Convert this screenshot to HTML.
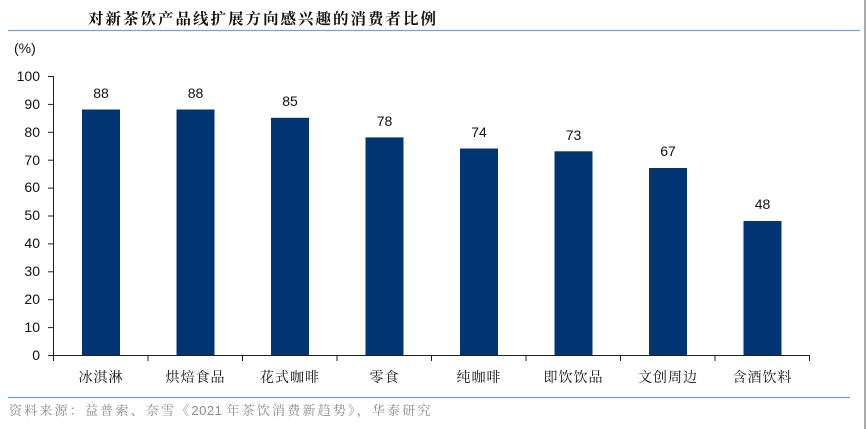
<!DOCTYPE html>
<html><head><meta charset="utf-8"><style>
html,body{margin:0;padding:0;background:#fff;}
body{width:866px;height:429px;overflow:hidden;}
</style></head><body>
<svg width="866" height="429" xmlns="http://www.w3.org/2000/svg" font-family="'Liberation Sans','Noto Sans CJK SC',sans-serif">
<text x="88" y="24" font-size="15.5" font-weight="bold" font-family="'Noto Serif CJK SC','Noto Sans CJK SC',serif" fill="#111" letter-spacing="2">对新茶饮产品线扩展方向感兴趣的消费者比例</text>
<line x1="8" y1="30.5" x2="860" y2="30.5" stroke="#7f9fcf" stroke-width="1.2"/>
<text x="14" y="53" font-size="14" fill="#111">(%)</text>
<g font-size="14" fill="#111" text-anchor="end">
<text x="40" y="360">0</text><text x="40" y="332">10</text><text x="40" y="304">20</text><text x="40" y="276">30</text><text x="40" y="248">40</text><text x="40" y="220">50</text><text x="40" y="192">60</text><text x="40" y="165">70</text><text x="40" y="137">80</text><text x="40" y="109">90</text><text x="40" y="81">100</text>
</g>
<g stroke="#222" stroke-width="1">
<line x1="53.5" y1="76" x2="53.5" y2="355"/>
<line x1="48" y1="76.5" x2="53.5" y2="76.5"/><line x1="48" y1="104.4" x2="53.5" y2="104.4"/><line x1="48" y1="132.3" x2="53.5" y2="132.3"/><line x1="48" y1="160.2" x2="53.5" y2="160.2"/><line x1="48" y1="188.1" x2="53.5" y2="188.1"/><line x1="48" y1="216" x2="53.5" y2="216"/><line x1="48" y1="243.9" x2="53.5" y2="243.9"/><line x1="48" y1="271.8" x2="53.5" y2="271.8"/><line x1="48" y1="299.7" x2="53.5" y2="299.7"/><line x1="48" y1="327.6" x2="53.5" y2="327.6"/>
<line x1="48" y1="355.5" x2="809.5" y2="355.5"/>
<line x1="53.5" y1="355" x2="53.5" y2="361"/><line x1="148" y1="355" x2="148" y2="361"/><line x1="242.5" y1="355" x2="242.5" y2="361"/><line x1="337" y1="355" x2="337" y2="361"/><line x1="431.5" y1="355" x2="431.5" y2="361"/><line x1="526" y1="355" x2="526" y2="361"/><line x1="620.5" y1="355" x2="620.5" y2="361"/><line x1="715" y1="355" x2="715" y2="361"/><line x1="809.5" y1="355" x2="809.5" y2="361"/>
</g>
<g fill="#003473">
<rect x="82" y="109.5" width="38" height="245.5"/>
<rect x="176.5" y="109.5" width="38" height="245.5"/>
<rect x="271" y="117.8" width="38" height="237.2"/>
<rect x="365.5" y="137.4" width="38" height="217.6"/>
<rect x="460" y="148.5" width="38" height="206.5"/>
<rect x="554.5" y="151.3" width="38" height="203.7"/>
<rect x="649" y="168" width="38" height="187"/>
<rect x="743.5" y="221" width="38" height="134"/>
</g>
<g font-size="14" fill="#111" text-anchor="middle">
<text x="101" y="98">88</text><text x="195.5" y="98">88</text><text x="290" y="106">85</text><text x="384.5" y="126">78</text><text x="479" y="137">74</text><text x="573.5" y="140">73</text><text x="668" y="156">67</text><text x="762.5" y="209">48</text>
</g>
<g font-size="14" fill="#111" text-anchor="middle" font-family="'Noto Serif CJK SC','Noto Sans CJK SC',serif" letter-spacing="1">
<text x="101" y="382">冰淇淋</text><text x="195.5" y="382">烘焙食品</text><text x="290" y="382">花式咖啡</text><text x="384.5" y="382">零食</text><text x="479" y="382">纯咖啡</text><text x="573.5" y="382">即饮饮品</text><text x="668" y="382">文创周边</text><text x="762.5" y="382">含酒饮料</text>
</g>
<line x1="8" y1="397.5" x2="850" y2="397.5" stroke="#7f9fcf" stroke-width="1.2"/>
<text x="9" y="415" font-size="13" fill="#8a8a8a" font-family="'Noto Serif CJK SC','Liberation Sans',serif" letter-spacing="2.2">资料来源：益普索、奈雪《<tspan font-family="'Liberation Sans',sans-serif" letter-spacing="0.5">2021 </tspan>年茶饮消费新趋势》，华泰研究</text>
<line x1="865" y1="0" x2="865" y2="429" stroke="#555" stroke-width="1"/>
</svg>
</body></html>
